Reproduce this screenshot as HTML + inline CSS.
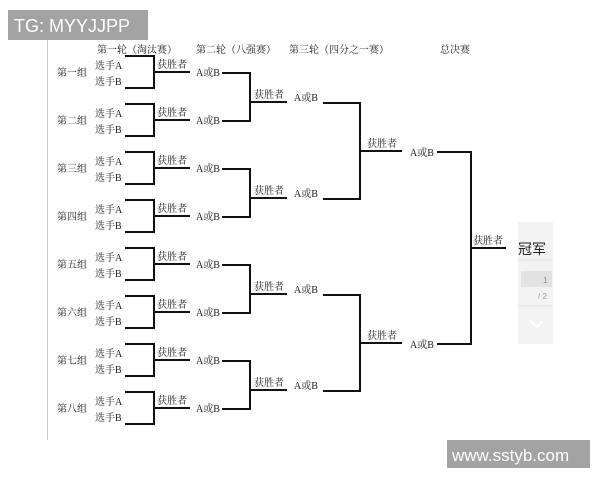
<!DOCTYPE html>
<html><head><meta charset="utf-8"><style>
body{margin:0;background:#fff;width:600px;height:480px;overflow:hidden}
svg{display:block}
text{font-family:"Liberation Serif","Noto Serif CJK SC",serif;font-size:10px;fill:#222}
.w{text-decoration:underline}
</style></head><body>
<svg width="600" height="480" viewBox="0 0 600 480">
<line x1="47.5" y1="40" x2="47.5" y2="440" stroke="#ccc" stroke-width="1"/>
<rect x="8" y="10" width="140" height="30" fill="#a3a3a3"/>
<text x="14" y="32" style="font-family:'Liberation Sans',sans-serif;font-size:18px;fill:#fff">TG: MYYJJPP</text>
<rect x="447" y="440" width="143" height="28" fill="#a3a3a3"/>
<text x="452" y="461" style="font-family:'Liberation Sans',sans-serif;font-size:17px;fill:#fff">www.sstyb.com</text>
<text x="97" y="53">第一轮（淘汰赛）</text>
<text x="196" y="53">第二轮（八强赛）</text>
<text x="289" y="53">第三轮（四分之一赛）</text>
<text x="440" y="53">总决赛</text>

<g id="g0">
<path d="M125 56h30M125 88h30M154 55v34M154 72h36M222 73h29" stroke="#111" stroke-width="2" fill="none"/>
<text x="95" y="69">选手A</text><text x="95" y="85">选手B</text>
<text x="157" y="68">获胜者</text><text x="196" y="76">A或B</text>
</g>
<g><text x="57" y="76">第一组</text></g>
<g transform="translate(0,48)"><use href="#g0"/><text x="57" y="76">第二组</text></g>
<g transform="translate(0,96)"><use href="#g0"/><text x="57" y="76">第三组</text></g>
<g transform="translate(0,144)"><use href="#g0"/><text x="57" y="76">第四组</text></g>
<g transform="translate(0,192)"><use href="#g0"/><text x="57" y="76">第五组</text></g>
<g transform="translate(0,240)"><use href="#g0"/><text x="57" y="76">第六组</text></g>
<g transform="translate(0,288)"><use href="#g0"/><text x="57" y="76">第七组</text></g>
<g transform="translate(0,336)"><use href="#g0"/><text x="57" y="76">第八组</text></g>

<g id="r2">
<path d="M250 72v50M250 102h37M323 103h38" stroke="#111" stroke-width="2" fill="none"/>
<text x="254" y="98">获胜者</text><text x="294" y="101">A或B</text>
</g>
<use href="#r2" transform="translate(0,96)"/>
<use href="#r2" transform="translate(0,192)"/>
<use href="#r2" transform="translate(0,288)"/>

<g id="r3">
<path d="M360 102v98M360 151h42M437 152h35" stroke="#111" stroke-width="2" fill="none"/>
<text x="367" y="147">获胜者</text><text x="410" y="156">A或B</text>
</g>
<use href="#r3" transform="translate(0,192)"/>

<path d="M471 151v194M471 248h35" stroke="#111" stroke-width="2" fill="none"/>
<text x="473" y="244">获胜者</text>

<rect x="518" y="222" width="35" height="122" fill="#f3f3f3"/>
<text x="518" y="254" style="font-family:'Liberation Sans','Noto Sans CJK SC',sans-serif;font-size:14px;fill:#222">冠军</text>
<line x1="518" y1="260" x2="553" y2="260" stroke="#e0e0e0"/>
<rect x="521" y="271" width="31" height="16" fill="#e2e2e2"/>
<text x="543" y="283" style="font-family:'Liberation Sans',sans-serif;font-size:8px;fill:#888">1</text>
<text x="538" y="299" style="font-family:'Liberation Sans',sans-serif;font-size:8px;fill:#999">/ 2</text>
<line x1="518" y1="306" x2="553" y2="306" stroke="#e0e0e0"/>
<polyline points="531,321 537,327 543,321" fill="none" stroke="#fff" stroke-width="2"/>
</svg>
</body></html>
